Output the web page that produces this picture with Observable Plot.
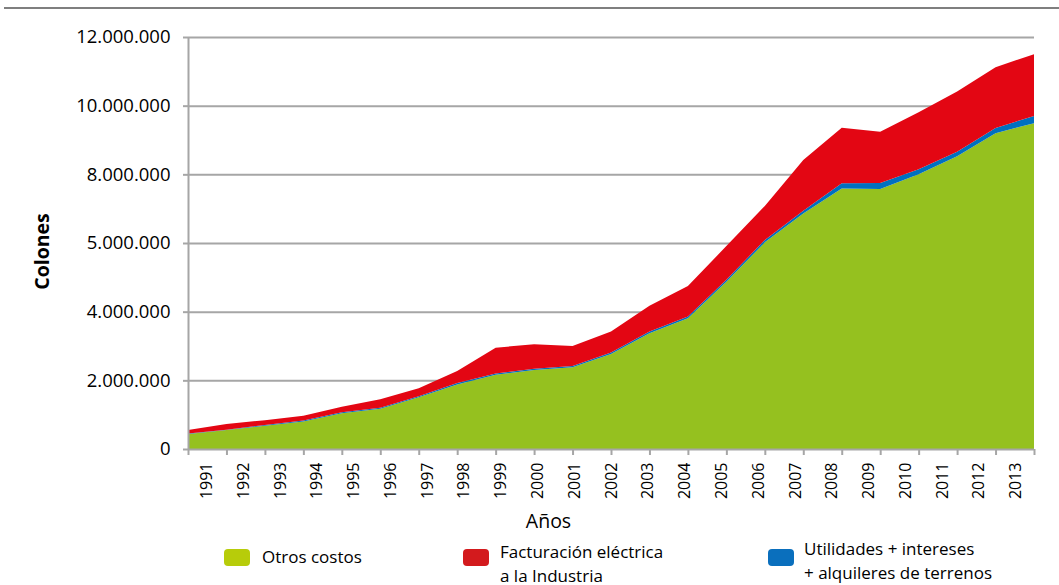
<!DOCTYPE html>
<html>
<head>
<meta charset="utf-8">
<script src="https://cdn.jsdelivr.net/npm/d3@7"></script>
<script src="https://cdn.jsdelivr.net/npm/@observablehq/plot@0.6"></script>
<style>
  html, body { margin: 0; padding: 0; background: #fff; }
  body { width: 1059px; height: 585px; overflow: hidden; font-family: "Open Sans", sans-serif; }
  #wrap { position: relative; width: 1059px; height: 585px; }
  #toprule { position: absolute; left: 4px; top: 7px; width: 1055px; height: 0; border-top: 2px solid #7f7f7f; }
  #chart { position: absolute; left: 0; top: 0; }
  #legend { position: absolute; left: 0; top: 535px; width: 1059px; height: 50px; font-size: 17px; color: #000; }
  .sw { position: absolute; width: 26px; height: 17px; border-radius: 4px; }
  .lt { position: absolute; line-height: 24px; white-space: nowrap; }
</style>
</head>
<body>
<div id="wrap">
  <div id="chart"></div>
  <div id="toprule"></div>
  <div id="legend"></div>
</div>
<script>
const years = [1991,1992,1993,1994,1995,1996,1997,1998,1999,2000,2001,2002,2003,2004,2005,2006,2007,2008,2009,2010,2011,2012,2013];
const otrosCostos = [440000,550000,680000,800000,1040000,1170000,1510000,1880000,2160000,2300000,2380000,2770000,3370000,3810000,4870000,6020000,6860000,7590000,7570000,8000000,8530000,9200000,9490000];
const utilidades = [10000,10000,20000,30000,30000,30000,30000,40000,40000,40000,40000,40000,50000,50000,60000,70000,80000,150000,180000,150000,130000,150000,210000];
const facturacion = [100000,170000,140000,140000,160000,250000,230000,350000,750000,710000,580000,610000,750000,890000,980000,990000,1480000,1620000,1490000,1660000,1750000,1770000,1800000];

const seriesNames = ["Otros costos", "Utilidades + intereses + alquileres de terrenos", "Facturación eléctrica a la Industria"];
const seriesColors = ["#95c11f", "#0070c0", "#e30613"];
const yTickValues = [0, 2000000, 4000000, 6000000, 8000000, 10000000, 12000000];
const yTickLabels = ["0", "2.000.000", "4.000.000", "5.000.000", "8.000.000", "10.000.000", "12.000.000"];

const legendItems = [
  {lines: ["Otros costos"], color: "#b7cc0a", sx: 224, tx: 262, ty: 10},
  {lines: ["Facturación eléctrica", "a la Industria"], color: "#d31a1d", sx: 463, tx: 500, ty: 5},
  {lines: ["Utilidades + intereses", "+ alquileres de terrenos"], color: "#0a6fbd", sx: 768, tx: 804, ty: 2}
];

const data = [];
seriesNames.forEach((s, k) => {
  const vals = [otrosCostos, utilidades, facturacion][k];
  years.forEach((y, i) => data.push({year: y, series: s, value: vals[i]}));
});

const gray = "#a6a6a6";
const n = years.length;

const chart = Plot.plot({
  width: 1059,
  height: 535,
  marginLeft: 188,
  marginRight: 25,
  marginTop: 37,
  marginBottom: 86,
  style: {fontFamily: "Open Sans, sans-serif", fontSize: "18px", color: "#000", background: "#fff"},
  x: {domain: [1991, 2013], axis: null},
  y: {domain: [0, 12000000], axis: null},
  color: {domain: seriesNames, range: seriesColors},
  marks: [
    Plot.ruleY(yTickValues.slice(1), {stroke: gray, strokeWidth: 2}),
    Plot.areaY(data, {x: "year", y: "value", z: "series", fill: "series", order: seriesNames}),
    Plot.axisY({ticks: yTickValues, tickFormat: (d) => yTickLabels[yTickValues.indexOf(d)], tickSize: 5, tickPadding: 13, stroke: gray, strokeWidth: 2, fontSize: 18.5, label: null}),
    Plot.axisX({ticks: years, tickFormat: () => "", tickSize: 6, stroke: gray, strokeWidth: 2, label: null}),
    Plot.ruleX([1991], {stroke: gray, strokeWidth: 2}),
    Plot.ruleY([0], {stroke: gray, strokeWidth: 2}),
    Plot.text(years, {
      x: (d) => 1991 + (d - 1991 + 0.5) * (n - 1) / n,
      y: 0,
      text: (d) => String(d),
      rotate: -90,
      textAnchor: "end",
      lineAnchor: "middle",
      dy: 13,
      fontSize: 16,
      fill: "#000"
    }),
    Plot.text(["Años"], {frameAnchor: "bottom", dx: -63, dy: 78, fontSize: 19.5, fill: "#000"}),
    Plot.text(["Colones"], {frameAnchor: "left", textAnchor: "middle", dx: -146, dy: 8, rotate: -90, fontSize: 19.5, fontWeight: "bold", fill: "#000"})
  ]
});
document.getElementById("chart").appendChild(chart);

const legend = document.getElementById("legend");
legendItems.forEach((it) => {
  const sw = document.createElement("div");
  sw.className = "sw";
  sw.style.left = it.sx + "px";
  sw.style.top = "14px";
  sw.style.background = it.color;
  legend.appendChild(sw);
  const t = document.createElement("div");
  t.className = "lt";
  t.style.left = it.tx + "px";
  t.style.top = it.ty + "px";
  t.innerHTML = it.lines.join("<br>");
  legend.appendChild(t);
});
</script>
</body>
</html>
